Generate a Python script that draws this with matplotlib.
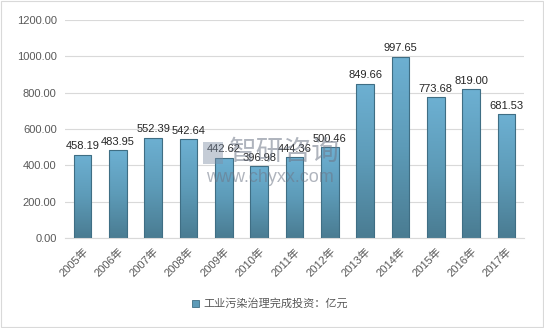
import numpy as np
import matplotlib
matplotlib.use("Agg")
import matplotlib.pyplot as plt
from matplotlib.patches import Rectangle
from matplotlib.colors import LinearSegmentedColormap

plt.rcParams['font.family'] = ['Liberation Sans', 'Noto Sans CJK SC', 'DejaVu Sans']

years = ["2005年", "2006年", "2007年", "2008年", "2009年", "2010年", "2011年",
         "2012年", "2013年", "2014年", "2015年", "2016年", "2017年"]
values = [458.19, 483.95, 552.39, 542.64, 442.62, 396.98, 444.36,
          500.46, 849.66, 997.65, 773.68, 819.00, 681.53]
series_name = "工业污染治理完成投资：亿元"
yticks = [0, 200, 400, 600, 800, 1000, 1200]

fig = plt.figure(figsize=(5.44, 3.28), dpi=100)
ax = fig.add_axes([65 / 544, 1 - 238 / 328, 459 / 544, 218 / 328])

x = np.arange(len(years))
width = 0.5
grad = LinearSegmentedColormap.from_list("bar", ["#4a7c92", "#5d9bb8", "#6db0d2"])
bars = ax.bar(x, values, width=width, color="none", edgecolor="#3f6e84",
              linewidth=0.8, zorder=3)
for b in bars:
    x0, y0 = b.get_x(), b.get_y()
    w, h = b.get_width(), b.get_height()
    img = ax.imshow(np.linspace(0, 1, 100).reshape(-1, 1), cmap=grad,
                    extent=[x0, x0 + w, y0, y0 + h], origin="lower",
                    aspect="auto", zorder=2)
    img.set_clip_path(b)

for xi, v in zip(x, values):
    ax.text(xi, v + 18, f"{v:.2f}", ha="center", va="bottom",
            fontsize=8, color="#262626", zorder=5)

ax.set_xlim(-0.5, len(years) - 0.5)
ax.set_ylim(0, 1200)
ax.set_yticks(yticks)
ax.set_yticklabels([f"{t:.2f}" for t in yticks], fontsize=8, color="#595959")
ax.set_xticks(x)
ax.set_xticklabels(years, rotation=45, ha="right", rotation_mode="anchor",
                   fontsize=8, color="#595959",
                   family=['Liberation Sans', 'Noto Sans CJK SC'])
ax.tick_params(axis="both", length=0, pad=6)
ax.grid(axis="y", color="#d9d9d9", linewidth=0.8, zorder=0)
for s in ["top", "right", "left"]:
    ax.spines[s].set_visible(False)
ax.spines["bottom"].set_color("#d9d9d9")
ax.set_axisbelow(True)

# watermark: logo block plus site name
fig.patches.append(Rectangle((203 / 544, 1 - 164 / 328), 20 / 544, 22 / 328,
                             transform=fig.transFigure, facecolor="#7f8fa6",
                             edgecolor="none", alpha=0.45, zorder=10))
fig.text(284 / 544, 1 - 152 / 328, "智研咨询", fontsize=20, color="#6e7787",
         alpha=0.55, ha="center", va="center", family="Noto Sans CJK SC",
         zorder=10)
fig.text(270 / 544, 1 - 178 / 328, "www.chyxx.com", fontsize=13,
         color="#6e7787", alpha=0.55, ha="center", va="center", zorder=10)

# legend
fig.patches.append(Rectangle((192 / 544, 1 - 307 / 328), 7 / 544, 7 / 328,
                             transform=fig.transFigure, facecolor="#5d9bb8",
                             edgecolor="#3f6e84", linewidth=0.6))
fig.text(203 / 544, 1 - 303.5 / 328, series_name, fontsize=8, color="#595959",
         va="center", ha="left", family="Noto Sans CJK SC")

# outer frame
fig.patches.append(Rectangle((1 / 544, 1 / 328), 542 / 544, 326 / 328,
                             transform=fig.transFigure, facecolor="none",
                             edgecolor="#d9d9d9", linewidth=0.8))

fig.savefig("out.png", dpi=100)
